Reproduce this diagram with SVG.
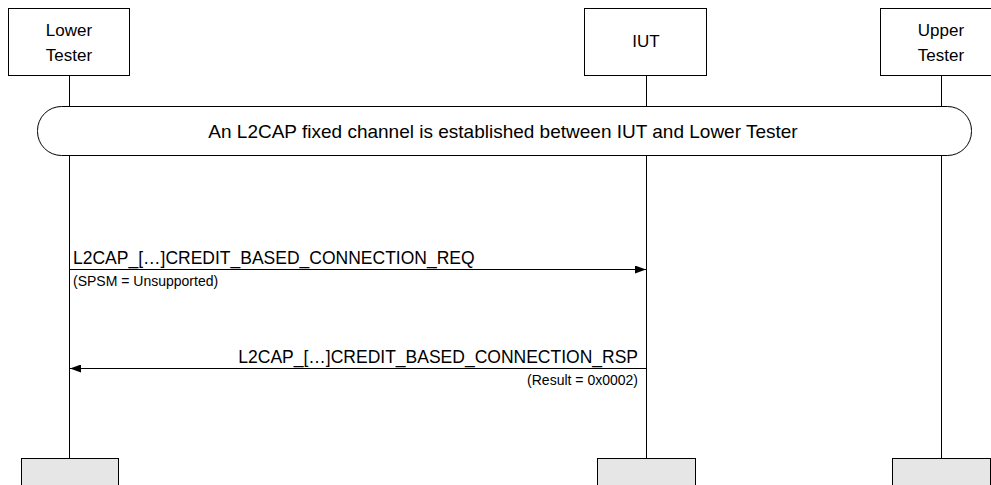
<svg xmlns="http://www.w3.org/2000/svg" width="991" height="485" viewBox="0 0 991 485">
<style>
.box{fill:#fff;stroke:#000;stroke-width:1}
.end{fill:#e6e6e6;stroke:#000;stroke-width:1}
.life{stroke:#000;stroke-width:1}
.h{font-family:"Liberation Sans",Arial,sans-serif;font-size:17px;fill:#000}
.c{font-family:"Liberation Sans",Arial,sans-serif;font-size:19px;fill:#000}
.t{font-family:"Liberation Sans",Arial,sans-serif;font-size:17.5px;fill:#000}
.s{font-family:"Liberation Sans",Arial,sans-serif;font-size:14px;fill:#000}
.msg{stroke:#000;stroke-width:1;fill:none}
</style>
<defs>
<marker id="ah" markerWidth="11" markerHeight="8" refX="11" refY="4" orient="auto" markerUnits="userSpaceOnUse">
<path d="M0,0 L11,4 L0,8 z" fill="#000"/>
</marker>
</defs>
<g id="lifelines">
<line class="life" x1="69.5" y1="75" x2="69.5" y2="458"/>
<line class="life" x1="646.5" y1="75" x2="646.5" y2="458"/>
<line class="life" x1="941.5" y1="75" x2="941.5" y2="458"/>
</g>
<g id="lower-tester">
<rect class="box" x="8.5" y="8.5" width="121" height="67"/>
<text class="h" x="69" y="36" text-anchor="middle">Lower</text>
<text class="h" x="69" y="61" text-anchor="middle">Tester</text>
</g>
<g id="iut">
<rect class="box" x="584.5" y="8.5" width="122" height="67"/>
<text class="h" x="646" y="47" text-anchor="middle">IUT</text>
</g>
<g id="upper-tester">
<rect class="box" x="880.5" y="8.5" width="122" height="67"/>
<text class="h" x="941" y="36" text-anchor="middle">Upper</text>
<text class="h" x="941" y="61" text-anchor="middle">Tester</text>
</g>
<g id="condition">
<rect class="box" x="37.5" y="106.5" width="934" height="49" rx="24" ry="24"/>
<text class="c" x="503" y="138" text-anchor="middle">An L2CAP fixed channel is established between IUT and Lower Tester</text>
</g>
<g id="connectors">
<line class="msg" x1="69.5" y1="269.5" x2="646" y2="269.5" marker-end="url(#ah)"/>
<text class="t" x="73" y="264">L2CAP_[…]CREDIT_BASED_CONNECTION_REQ</text>
<text class="s" x="73" y="286">(SPSM = Unsupported)</text>
<line class="msg" x1="646.5" y1="368.5" x2="70" y2="368.5" marker-end="url(#ah)"/>
<text class="t" x="638" y="363" text-anchor="end">L2CAP_[…]CREDIT_BASED_CONNECTION_RSP</text>
<text class="s" x="638" y="385" text-anchor="end">(Result = 0x0002)</text>
</g>
<g id="ends">
<rect class="end" x="21.5" y="458.5" width="97" height="30"/>
<rect class="end" x="597.5" y="458.5" width="98" height="30"/>
<rect class="end" x="892.5" y="458.5" width="98" height="30"/>
</g>
</svg>
